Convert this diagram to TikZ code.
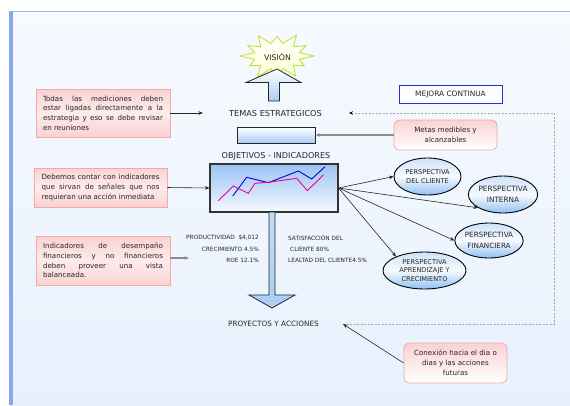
\documentclass[tikz,border=0pt]{standalone}
\usepackage{fontspec}
\setmainfont{DejaVu Sans}
\usetikzlibrary{arrows.meta,shapes.geometric}
\definecolor{txt}{HTML}{262626}
\definecolor{pinkborder}{HTML}{F4A8A8}
\definecolor{pinkA}{HTML}{FAD2D2}
\definecolor{pinkB}{HTML}{FDECEC}
\definecolor{bgtop}{HTML}{F7FAFF}
\definecolor{bgbot}{HTML}{E7F1FD}
\definecolor{frameblue}{HTML}{8AA6F2}
\definecolor{lblue}{HTML}{A9CDF6}
\definecolor{charttop}{HTML}{9CC3F3}
\definecolor{elltop}{HTML}{CDE2FA}
\definecolor{ellbot}{HTML}{8FC0F4}
\definecolor{starline}{HTML}{BADF2A}
\definecolor{starfill}{HTML}{FFFFD0}
\definecolor{mejora}{HTML}{2233CC}
\definecolor{graywire}{HTML}{8C8C8C}
\definecolor{dashgray}{HTML}{A8A8A8}
\begin{document}
\begin{tikzpicture}[x=1pt,y=-1pt,
  pinkbox/.style={rectangle, draw=pinkborder, line width=0.8pt,
    top color=pinkA, bottom color=pinkA, middle color=pinkB,
    align=justify, inner xsep=7pt, inner ysep=0pt, text=txt,
    font=\fontsize{7.1}{9.7}\selectfont,
    execute at begin node={\tolerance=10000\hbadness=10000}},
  roundbox/.style={rectangle, rounded corners=5pt, draw=pinkborder, line width=0.8pt,
    top color=pinkA, bottom color=white, align=center, inner sep=0pt, text=txt,
    minimum width=103pt, font=\fontsize{7.1}{9.8}\selectfont},
  persp/.style={ellipse, draw=black, line width=0.9pt,
    top color=elltop, bottom color=ellbot, middle color=white!85!elltop,
    align=center, inner sep=0pt, text=txt},
  title/.style={text=txt, inner sep=1pt},
  small/.style={text=txt, inner sep=0pt, font=\fontsize{5.8}{7}\selectfont},
  arr/.style={-{Stealth[length=4.5pt,width=3.5pt]}, line width=0.6pt, draw=black!85},
  grayarr/.style={-{Stealth[length=4.5pt,width=3.5pt]}, line width=1.6pt, draw=graywire},
  blockarrow/.style={draw=black!85, line width=0.8pt},
]
\useasboundingbox (0,0) rectangle (570,405);
% background panel
\fill[white] (0,0) rectangle (570,405);
\fill[top color=bgtop, bottom color=bgbot] (10,11) rectangle (570,405);
\fill[frameblue] (9,11) rectangle (12.5,405);
\fill[frameblue!80] (9,10.5) rectangle (570,12);

% vision star
\begin{scope}[shift={(277,56)}]
\draw[starline, line width=0.8pt, top color=white, bottom color=starfill]
 (0:37 and 23) -- (15:23 and 13) -- (30:31.5 and 19.5) -- (45:23 and 13) -- (60:37 and 23)
 -- (75:23 and 13) -- (90:33.3 and 20.7) -- (105:23 and 13) -- (120:38.9 and 24.2)
 -- (135:23 and 13) -- (150:31.5 and 19.5) -- (165:23 and 13) -- (180:37 and 23)
 -- (195:23 and 13) -- (210:33.3 and 20.7) -- (225:23 and 13) -- (240:37 and 23)
 -- (255:23 and 13) -- (270:31.5 and 19.5) -- (285:23 and 13) -- (300:38.9 and 24.2)
 -- (315:23 and 13) -- (330:33.3 and 20.7) -- (345:23 and 13) -- cycle;
\end{scope}
\node[title, font=\fontsize{7.8}{9}\selectfont] (vision) at (277.5,57) {VISIÓN};

% up block arrow
\draw[blockarrow, top color=white, bottom color=lblue]
  (277,69) -- (301,82.5) -- (279.5,82.5) -- (279.5,101) -- (268.5,101) -- (268.5,82.5) -- (246,82.5) -- cycle;

% titles
\node[title, font=\fontsize{8.2}{10}\selectfont] (temas) at (275.5,114) {TEMAS ESTRATEGICOS};
\node[rectangle, draw=black!85, line width=1pt, top color=white, bottom color=lblue,
      minimum width=78pt, minimum height=16pt, inner sep=0pt] (rect) at (276,135) {};
\node[title, font=\fontsize{8.1}{10}\selectfont] (objetivos) at (276,156) {OBJETIVOS - INDICADORES};

% chart box
\node[rectangle, draw=black!80, line width=1.1pt, top color=charttop, bottom color=white!88!lblue,
      minimum width=128pt, minimum height=48pt, inner sep=0pt] (chart) at (274,188) {};
\draw[blue!85!black, line width=0.9pt] (232.7,196) -- (246.7,177.3) -- (268.3,182.7) -- (298.3,171) -- (311.7,179) -- (325,166.7);
\draw[magenta, line width=0.9pt] (218.3,200.7) -- (233.3,186) -- (248.3,193.3) -- (255,183.3) -- (268.3,182.3) -- (296.7,178.3) -- (307.3,190.7) -- (323.3,175);

% down block arrow
\draw[blockarrow, top color=lblue!70!white, bottom color=lblue]
  (269,212) -- (275,212) -- (275,295) -- (295,295) -- (272,308) -- (249,295) -- (269,295) -- cycle;

\node[title, font=\fontsize{7.3}{9}\selectfont] (proyectos) at (273.5,324) {PROYECTOS Y ACCIONES};

% indicator figures
\node[small, anchor=east] (prod) at (259,237.5) {PRODUCTIVIDAD\ \ \$4,012};
\node[small, anchor=east] (crec) at (259,249) {CRECIMIENTO 4.5\%};
\node[small, anchor=east] (roe) at (259,260.5) {ROE 12.1\%};
\node[small, anchor=west] (satis) at (288,237.5) {SATISFACCIÓN DEL};
\node[small, anchor=west] (cli) at (290,249) {CLIENTE 80\%};
\node[small, anchor=west] (leal) at (288,260.5) {LEALTAD DEL CLIENTE4.5\%};

% left pink boxes
\node[pinkbox, text width=120pt, minimum height=48pt] (b1) at (103,113)
  {Todas las mediciones deben\linebreak estar ligadas directamente a la\linebreak estrategia y eso se debe revisar\linebreak en reuniones};
\node[pinkbox, text width=118pt, inner xsep=7.5pt, minimum height=39pt] (b2) at (100.5,187.5)
  {Debemos contar con indicadores\linebreak que sirvan de señales que nos\linebreak requieran una acción inmediata};
\node[pinkbox, text width=120pt, minimum height=49pt] (b3) at (103,260.5)
  {Indicadores de desempaño\linebreak financieros y no financieros\linebreak deben proveer una vista\linebreak balanceada.};

\coordinate (b1end) at (203,113);
\coordinate (b3end) at (189,258);
\draw[arr] (b1.east) -- (b1end);
\draw[arr] (b2.east) -- (chart.west);
\draw[grayarr] (b3.east |- b3end) -- (b3end);

% right side
\node[rectangle, draw=mejora, line width=1pt, fill=white!60!bgtop, text=txt,
      minimum width=103pt, minimum height=18pt, inner sep=0pt,
      font=\fontsize{7.4}{9}\selectfont] (mejoranode) at (450.5,94) {MEJORA CONTINUA};
\node[roundbox, minimum height=30pt] (metas) at (445.5,135) {Metas medibles y\\alcanzables};
\draw[grayarr] (metas.west) -- (rect.east);

\node[roundbox, minimum height=40pt] (conex) at (455.5,363) {Conexión hacia el dia o\\dias y las acciones\\futuras};

\coordinate (loopend) at (343,324);
\coordinate (loopstart) at (349,113);
\draw[dashgray, dash pattern=on 2pt off 1.5pt, line width=0.6pt, -{Stealth[length=4pt,width=3.5pt,black]}]
  (loopend) -- (554,324) -- (554,113) -- (loopstart);
\draw[arr] (conex.west) -- (loopend);

% perspectives
\node[persp, minimum width=67pt, minimum height=37pt, font=\fontsize{6.6}{9}\selectfont] (e1) at (427.5,176.5) {PERSPECTIVA\\DEL CLIENTE};
\node[persp, minimum width=68pt, minimum height=37pt, font=\fontsize{7.3}{10.5}\selectfont] (e2) at (503,194.5) {PERSPECTIVA\\INTERNA};
\node[persp, minimum width=68pt, minimum height=35pt, font=\fontsize{7.2}{10.5}\selectfont] (e3) at (489,240.5) {PERSPECTIVA\\FINANCIERA};
\node[persp, minimum width=83pt, minimum height=37pt, font=\fontsize{6.6}{8.7}\selectfont] (e4) at (424.5,270.5) {PERSPECTIVA\\APRENDIZAJE Y\\CRECIMIENTO};

\draw[arr] (chart.east) -- (e1.west);
\draw[arr] (chart.east) -- (e2.208);
\draw[arr] (chart.east) -- (e3.west);
\draw[arr] (chart.east) -- (e4.154);
\end{tikzpicture}
\end{document}
